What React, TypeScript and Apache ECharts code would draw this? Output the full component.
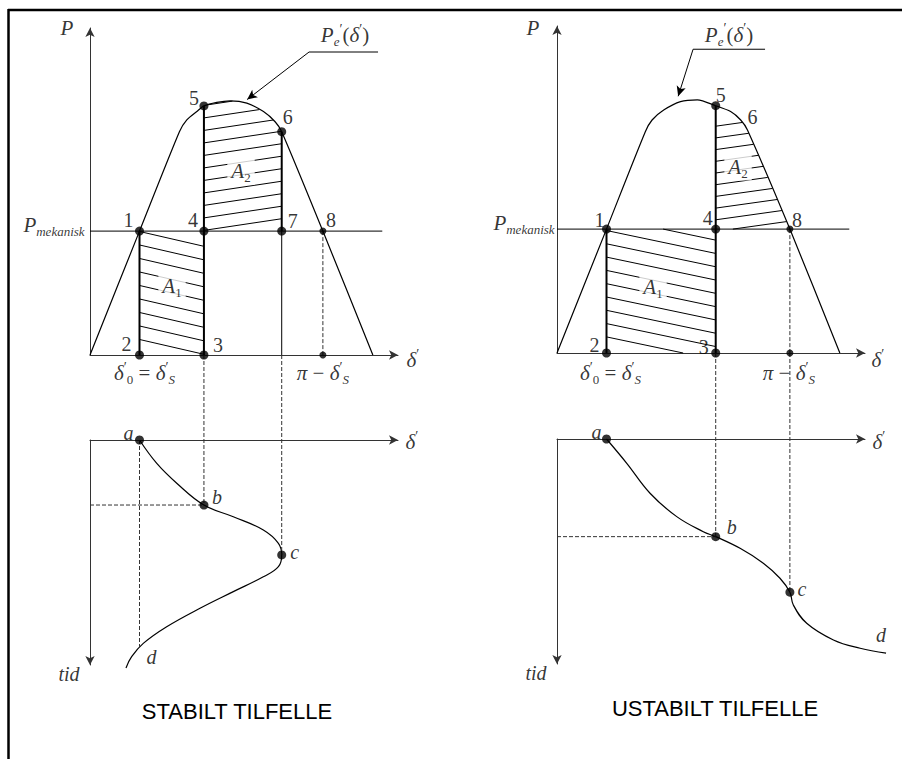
import React, { useEffect, useRef } from 'react';
import * as echarts from 'echarts';

const SERIF = '"Liberation Serif", "Times New Roman", serif';
const SANS = '"Liberation Sans", Arial, Helvetica, sans-serif';

// Angles in electrical degrees, power relative to the peak of P'e(δ'), time in relative units
const DELTA_MAX = 196;
const P_MAX = 1.28;
const T_MAX = 1;
const DELTA_S = 31.5; // δ'0 = δ'S
const DELTA_U = 148.2; // π − δ'S
const P_MEK = 0.485;
const P_MEK_END = 186;

// Stable case (left)
const STABLE_CLEAR = 72.5; // points 3, 4, 5
const STABLE_SWING = 122; // points 6, 7
const stablePowerDelta = [0, DELTA_S, 56.9, 61.6, 68.0, STABLE_CLEAR, 80.7, 89.2, 99.8, 110.4, 117.8, STABLE_SWING, DELTA_U, 180];
const stablePower = [0, P_MEK, 0.874, 0.92, 0.953, 0.975, 0.989, 0.995, 0.986, 0.953, 0.913, 0.874, P_MEK, 0];
const stableSwingDelta = [DELTA_S, 42.5, 55.2, STABLE_CLEAR, 91.2, 110.3, 119.9, STABLE_SWING, 119.9, 110.3, 91.2, 70.0, 48.8, 33.9, 26.5, 22.9];
const stableSwingTime = [0, 0.104, 0.192, 0.289, 0.341, 0.4, 0.459, 0.511, 0.563, 0.608, 0.674, 0.748, 0.83, 0.904, 0.963, 1.013];
const STABLE_DROP_T = 0.933;
const stablePointerDelta = [183.3, 139.4, 100];
const stablePointerP = [1.186, 1.186, 1.0];

// Unstable case (right)
const UNSTABLE_CLEAR = 101; // points 3, 4, 5
const UNSTABLE_MARK6 = 121.2;
const unstablePowerDelta = [0, DELTA_S, 56.2, 60.5, 67.9, 78.6, 89.3, UNSTABLE_CLEAR, 110.5, 116.9, UNSTABLE_MARK6, DELTA_U, 180];
const unstablePower = [0, P_MEK, 0.866, 0.912, 0.951, 0.984, 0.991, 0.968, 0.945, 0.912, 0.873, P_MEK, 0];
const unstableSwingDelta = [DELTA_S, 44.4, 59.2, 76.2, 93.1, UNSTABLE_CLEAR, 116.5, 131.3, 141.9, DELTA_U, 150.4, 158.9, 175.9, 192.9, 209.4];
const unstableSwingTime = [0, 0.108, 0.241, 0.345, 0.412, 0.434, 0.486, 0.552, 0.619, 0.681, 0.738, 0.819, 0.893, 0.93, 0.952];
const unstablePointerDelta = [132.4, 86.6, 77.1];
const unstablePointerP = [1.189, 1.189, 1.005];

const zip = (xs: number[], ys: number[]) => xs.map((x, i) => [x, ys[i]]);
const valueAt = (xs: number[], ys: number[], x: number) => ys[xs.indexOf(x)];

const P5_STABLE = valueAt(stablePowerDelta, stablePower, STABLE_CLEAR);
const P6_STABLE = valueAt(stablePowerDelta, stablePower, STABLE_SWING);
const P5_UNSTABLE = valueAt(unstablePowerDelta, unstablePower, UNSTABLE_CLEAR);
const P6_UNSTABLE = valueAt(unstablePowerDelta, unstablePower, UNSTABLE_MARK6);
const TB_STABLE = valueAt(stableSwingDelta, stableSwingTime, STABLE_CLEAR);
const TC_STABLE = valueAt(stableSwingDelta, stableSwingTime, STABLE_SWING);
const TB_UNSTABLE = valueAt(unstableSwingDelta, unstableSwingTime, UNSTABLE_CLEAR);
const TC_UNSTABLE = valueAt(unstableSwingDelta, unstableSwingTime, DELTA_U);
const TD_UNSTABLE = unstableSwingTime[unstableSwingTime.length - 1];
const DD_UNSTABLE = unstableSwingDelta[unstableSwingDelta.length - 1];

const rich: any = {
  i: { fontFamily: SERIF, fontStyle: 'italic', fontSize: 21, lineHeight: 26, color: '#000' },
  r: { fontFamily: SERIF, fontSize: 21, lineHeight: 26, color: '#000' },
  s: { fontFamily: SERIF, fontStyle: 'italic', fontSize: 13, lineHeight: 12, verticalAlign: 'bottom', color: '#000' },
  o: { fontFamily: SERIF, fontSize: 13, lineHeight: 12, verticalAlign: 'bottom', color: '#000' },
  q: { fontFamily: SERIF, fontSize: 14, lineHeight: 13, verticalAlign: 'top', color: '#000' },
  n: { fontFamily: SERIF, fontSize: 20, lineHeight: 22, color: '#000' },
  l: { fontFamily: SERIF, fontStyle: 'italic', fontSize: 20, lineHeight: 22, color: '#000' },
};

const T_P = '{i|P}';
const T_PMEK = '{i|P}{s|mekanisk}';
const T_PE = '{i|P}{s|e}{q|′}{r|(}{i|δ}{q|′}{r|)}';
const T_DELTA = '{i|δ}{q|′}';
const T_DS = '{i|δ}{q|′}{o|0}{r| = }{i|δ}{q|′}{s|S}';
const T_DU = '{i|π}{r| − }{i|δ}{q|′}{s|S}';
const T_A1 = '{i|A}{o|1}';
const T_A2 = '{i|A}{o|2}';
const num = (n: number) => `{n|${n}}`;
const let_ = (s: string) => `{l|${s}}`;

type Lab = { at: number[]; text: string; dx: number; dy: number; box?: boolean };

const stableTopLabels: Lab[] = [
  { at: [DELTA_S, P_MEK], text: num(1), dx: -11, dy: -11 },
  { at: [DELTA_S, 0], text: num(2), dx: -13, dy: -11 },
  { at: [STABLE_CLEAR, 0], text: num(3), dx: 14, dy: -10 },
  { at: [STABLE_CLEAR, P_MEK], text: num(4), dx: -11, dy: -11 },
  { at: [STABLE_CLEAR, P5_STABLE], text: num(5), dx: -10, dy: -8 },
  { at: [STABLE_SWING, P6_STABLE], text: num(6), dx: 6, dy: -15 },
  { at: [STABLE_SWING, P_MEK], text: num(7), dx: 11, dy: -10 },
  { at: [DELTA_U, P_MEK], text: num(8), dx: 8, dy: -11 },
  { at: [0, P_MAX], text: T_P, dx: -23, dy: 0 },
  { at: [0, P_MEK], text: T_PMEK, dx: -36, dy: -6 },
  { at: [DELTA_MAX, 0], text: T_DELTA, dx: 15, dy: 5 },
  { at: [DELTA_S, 0], text: T_DS, dx: 5, dy: 18 },
  { at: [DELTA_U, 0], text: T_DU, dx: 0, dy: 18 },
  { at: [52.2, 0.27], text: T_A1, dx: 0, dy: 0, box: true },
  { at: [96.1, 0.72], text: T_A2, dx: 0, dy: 0, box: true },
  { at: [162.3, 1.252], text: T_PE, dx: 0, dy: 0 },
];

const unstableTopLabels: Lab[] = [
  { at: [DELTA_S, P_MEK], text: num(1), dx: -7, dy: -9 },
  { at: [DELTA_S, 0], text: num(2), dx: -12, dy: -8 },
  { at: [UNSTABLE_CLEAR, 0], text: num(3), dx: -12, dy: -6 },
  { at: [UNSTABLE_CLEAR, P_MEK], text: num(4), dx: -8, dy: -11 },
  { at: [UNSTABLE_CLEAR, P5_UNSTABLE], text: num(5), dx: 5, dy: -11 },
  { at: [UNSTABLE_MARK6, P6_UNSTABLE], text: num(6), dx: 5, dy: -13 },
  { at: [DELTA_U, P_MEK], text: num(8), dx: 7, dy: -9 },
  { at: [0, P_MAX], text: T_P, dx: -24, dy: 2 },
  { at: [0, P_MEK], text: T_PMEK, dx: -33, dy: -6 },
  { at: [DELTA_MAX, 0], text: T_DELTA, dx: 13, dy: 7 },
  { at: [DELTA_S, 0], text: T_DS, dx: 4, dy: 20 },
  { at: [DELTA_U, 0], text: T_DU, dx: -1, dy: 20 },
  { at: [61.1, 0.258], text: T_A1, dx: 0, dy: 0, box: true },
  { at: [115.2, 0.73], text: T_A2, dx: 0, dy: 0, box: true },
  { at: [109.5, 1.245], text: T_PE, dx: 0, dy: 0 },
];

const stableBottomLabels: Lab[] = [
  { at: [DELTA_S, 0], text: let_('a'), dx: -11, dy: -7 },
  { at: [STABLE_CLEAR, TB_STABLE], text: let_('b'), dx: 13, dy: -8 },
  { at: [STABLE_SWING, TC_STABLE], text: let_('c'), dx: 13, dy: -3 },
  { at: [DELTA_S, STABLE_DROP_T], text: let_('d'), dx: 12, dy: 7 },
  { at: [0, T_MAX], text: let_('tid'), dx: -21, dy: 9 },
  { at: [DELTA_MAX, 0], text: T_DELTA, dx: 14, dy: 2 },
];

const unstableBottomLabels: Lab[] = [
  { at: [DELTA_S, 0], text: let_('a'), dx: -10, dy: -7 },
  { at: [UNSTABLE_CLEAR, TB_UNSTABLE], text: let_('b'), dx: 16, dy: -10 },
  { at: [DELTA_U, TC_UNSTABLE], text: let_('c'), dx: 12, dy: -3 },
  { at: [DD_UNSTABLE, TD_UNSTABLE], text: let_('d'), dx: -5, dy: -18 },
  { at: [0, T_MAX], text: let_('tid'), dx: -21, dy: 9 },
  { at: [DELTA_MAX, 0], text: T_DELTA, dx: 14, dy: 3 },
];

const segments = (gi: number, rows: number[][], width: number, dashed = false): any => ({
  type: 'custom',
  xAxisIndex: gi,
  yAxisIndex: gi,
  silent: true,
  z: 3,
  data: rows,
  renderItem: (_p: any, api: any) => {
    const a = api.coord([api.value(0), api.value(1)]);
    const b = api.coord([api.value(2), api.value(3)]);
    return {
      type: 'line',
      shape: { x1: a[0], y1: a[1], x2: b[0], y2: b[1] },
      style: { stroke: dashed ? '#333' : '#000', lineWidth: width, lineDash: dashed ? [4, 2] : null, fill: null },
    };
  },
});

// Parallel hatch lines (pixel slope dy/dx, vertical spacing) clipped to a polygon given in data units
const hatch = (gi: number, polygon: number[][], anchor: number[], slope: number, spacing: number, phase: number): any => ({
  type: 'custom',
  xAxisIndex: gi,
  yAxisIndex: gi,
  silent: true,
  z: 2,
  data: [[0, 0]],
  renderItem: (_p: any, api: any) => {
    const pts = polygon.map((p) => api.coord(p));
    const a = api.coord(anchor);
    const b0 = a[1] - slope * a[0] + phase;
    const bs = pts.map((p: number[]) => p[1] - slope * p[0]);
    const kMin = Math.ceil((Math.min(...bs) - b0) / spacing);
    const kMax = Math.floor((Math.max(...bs) - b0) / spacing);
    const children: any[] = [];
    for (let k = kMin; k <= kMax; k++) {
      const b = b0 + k * spacing;
      const xs: number[] = [];
      for (let i = 0; i < pts.length; i++) {
        const p1 = pts[i];
        const p2 = pts[(i + 1) % pts.length];
        const f1 = p1[1] - slope * p1[0] - b;
        const f2 = p2[1] - slope * p2[0] - b;
        if (f1 > 0 !== f2 > 0) {
          const t = f1 / (f1 - f2);
          xs.push(p1[0] + t * (p2[0] - p1[0]));
        }
      }
      xs.sort((u, v) => u - v);
      for (let j = 0; j + 1 < xs.length; j += 2) {
        const len = (xs[j + 1] - xs[j]) * Math.sqrt(1 + slope * slope);
        if (len < 16) continue;
        children.push({
          type: 'line',
          shape: { x1: xs[j], y1: slope * xs[j] + b, x2: xs[j + 1], y2: slope * xs[j + 1] + b },
          style: { stroke: '#000', lineWidth: 1 },
        });
      }
    }
    return { type: 'group', children };
  },
});

const curve = (gi: number, xs: number[], ys: number[], smooth: number, pointer?: number[][]): any => ({
  type: 'line',
  xAxisIndex: gi,
  yAxisIndex: gi,
  data: zip(xs, ys),
  smooth,
  symbol: 'none',
  clip: false,
  silent: true,
  z: 3,
  lineStyle: { color: '#000', width: 1.2 },
  markLine: pointer
    ? {
        silent: true,
        symbol: ['none', 'arrow'],
        symbolSize: [7, 10],
        label: { show: false },
        lineStyle: { color: '#000', width: 1, type: 'solid' },
        data: [[{ coord: pointer[0] }, { coord: pointer[1] }]],
      }
    : undefined,
});

// Swing curve δ'(t); may run past the end of the δ' axis, so it is drawn unclipped
const swing = (gi: number, xs: number[], ys: number[], smooth: number): any => ({
  type: 'custom',
  xAxisIndex: gi,
  yAxisIndex: gi,
  silent: true,
  z: 3,
  data: [[xs[0], ys[0]]],
  renderItem: (_p: any, api: any) => ({
    type: 'polyline',
    shape: { points: zip(xs, ys).map((p) => api.coord(p)), smooth },
    style: { stroke: '#000', lineWidth: 1.2, fill: null },
  }),
});

const dots = (gi: number, pts: number[][], size: number): any => ({
  type: 'scatter',
  xAxisIndex: gi,
  yAxisIndex: gi,
  data: pts,
  symbolSize: size,
  silent: true,
  clip: false,
  z: 4,
  itemStyle: { color: '#000' },
});

const labels = (gi: number, items: Lab[]): any => ({
  type: 'scatter',
  xAxisIndex: gi,
  yAxisIndex: gi,
  symbolSize: 1,
  silent: true,
  clip: false,
  z: 6,
  itemStyle: { color: 'rgba(0,0,0,0)' },
  label: { show: true, position: 'inside', color: '#000', textBorderWidth: 0, rich },
  data: items.map((l) => ({
    value: l.at,
    label: {
      formatter: l.text,
      offset: [l.dx, l.dy],
      ...(l.box ? { backgroundColor: '#fff', padding: [1, 4] } : {}),
    },
  })),
});

const underCurve = (xs: number[], ys: number[], from: number, to: number) =>
  zip(xs, ys).filter((p) => p[0] > from && p[0] < to);

const axisLine = (symbol: string[]) => ({
  show: true,
  onZero: false,
  symbol,
  symbolSize: [7, 9],
  lineStyle: { color: '#333', width: 1 },
});

const hiddenParts = {
  axisTick: { show: false },
  axisLabel: { show: false },
  splitLine: { show: false },
};

function buildOption(): any {
  const grids = [
    { left: 90, top: 28, width: 308, height: 327 },
    { left: 557, top: 26, width: 308, height: 327 },
    { left: 90, top: 440, width: 308, height: 225 },
    { left: 557, top: 439, width: 308, height: 225 },
  ];
  const xAxis = grids.map((_, i) => ({
    gridIndex: i,
    type: 'value',
    min: 0,
    max: DELTA_MAX,
    position: i < 2 ? 'bottom' : 'top',
    axisLine: axisLine(['none', 'arrow']),
    ...hiddenParts,
  }));
  const yAxis = grids.map((_, i) =>
    i < 2
      ? { gridIndex: i, type: 'value', min: 0, max: P_MAX, axisLine: axisLine(['none', 'arrow']), ...hiddenParts }
      : { gridIndex: i, type: 'value', min: 0, max: T_MAX, inverse: true, axisLine: axisLine(['arrow', 'none']), ...hiddenParts }
  );

  const stablePointer = zip(stablePointerDelta, stablePointerP);
  const unstablePointer = zip(unstablePointerDelta, unstablePointerP);

  const series: any[] = [
    // ---- stable, power-angle ----
    hatch(0, [[DELTA_S, P_MEK], [STABLE_CLEAR, P_MEK], [STABLE_CLEAR, 0], [DELTA_S, 0]], [STABLE_CLEAR, 0], 0.23, 13.5, -0.7),
    hatch(
      0,
      [
        [STABLE_CLEAR, P_MEK],
        [STABLE_CLEAR, P5_STABLE],
        ...underCurve(stablePowerDelta, stablePower, STABLE_CLEAR, STABLE_SWING),
        [STABLE_SWING, P6_STABLE],
        [STABLE_SWING, P_MEK],
      ],
      [STABLE_CLEAR, P_MEK],
      -0.15,
      12.5,
      -0.7
    ),
    curve(0, stablePowerDelta, stablePower, 0.25, [stablePointer[1], stablePointer[2]]),
    segments(0, [[0, P_MEK, P_MEK_END, P_MEK], [STABLE_SWING, P_MEK, STABLE_SWING, 0], [...stablePointer[0], ...stablePointer[1]]], 1),
    segments(0, [[DELTA_S, P_MEK, DELTA_S, 0], [STABLE_CLEAR, 0, STABLE_CLEAR, P5_STABLE], [STABLE_SWING, P6_STABLE, STABLE_SWING, P_MEK]], 2),
    segments(0, [[DELTA_U, P_MEK, DELTA_U, 0]], 1, true),
    dots(0, [[DELTA_S, P_MEK], [DELTA_S, 0], [STABLE_CLEAR, 0], [STABLE_CLEAR, P_MEK], [STABLE_CLEAR, P5_STABLE], [STABLE_SWING, P6_STABLE], [STABLE_SWING, P_MEK]], 9),
    dots(0, [[DELTA_U, P_MEK], [DELTA_U, 0]], 7),
    labels(0, stableTopLabels),

    // ---- unstable, power-angle ----
    hatch(1, [[DELTA_S, P_MEK], [UNSTABLE_CLEAR, P_MEK], [UNSTABLE_CLEAR, 0], [DELTA_S, 0]], [DELTA_S, 0], 0.21, 13.3, -16.1),
    hatch(
      1,
      [
        [UNSTABLE_CLEAR, P_MEK],
        [UNSTABLE_CLEAR, P5_UNSTABLE],
        ...underCurve(unstablePowerDelta, unstablePower, UNSTABLE_CLEAR, DELTA_U),
        [DELTA_U, P_MEK],
      ],
      [UNSTABLE_CLEAR, P_MEK],
      -0.14,
      11.7,
      2.4
    ),
    curve(1, unstablePowerDelta, unstablePower, 0.25, [unstablePointer[1], unstablePointer[2]]),
    segments(1, [[0, P_MEK, P_MEK_END, P_MEK], [...unstablePointer[0], ...unstablePointer[1]]], 1),
    segments(1, [[DELTA_S, P_MEK, DELTA_S, 0], [UNSTABLE_CLEAR, 0, UNSTABLE_CLEAR, P5_UNSTABLE]], 2),
    segments(1, [[DELTA_U, P_MEK, DELTA_U, 0]], 1, true),
    dots(1, [[DELTA_S, P_MEK], [DELTA_S, 0], [UNSTABLE_CLEAR, 0], [UNSTABLE_CLEAR, P_MEK], [UNSTABLE_CLEAR, P5_UNSTABLE]], 9),
    dots(1, [[DELTA_U, P_MEK], [DELTA_U, 0]], 7),
    labels(1, unstableTopLabels),

    // ---- stable, swing curve ----
    swing(2, stableSwingDelta, stableSwingTime, 0.4),
    segments(2, [[DELTA_S, 0, DELTA_S, STABLE_DROP_T], [0, TB_STABLE, STABLE_CLEAR, TB_STABLE]], 1, true),
    dots(2, [[DELTA_S, 0], [STABLE_CLEAR, TB_STABLE], [STABLE_SWING, TC_STABLE]], 9),
    labels(2, stableBottomLabels),

    // ---- unstable, swing curve ----
    swing(3, unstableSwingDelta, unstableSwingTime, 0.4),
    segments(3, [[0, TB_UNSTABLE, UNSTABLE_CLEAR, TB_UNSTABLE]], 1, true),
    dots(3, [[DELTA_S, 0], [UNSTABLE_CLEAR, TB_UNSTABLE], [DELTA_U, TC_UNSTABLE]], 9),
    labels(3, unstableBottomLabels),
  ];

  return {
    animation: false,
    grid: grids.map((g) => ({ ...g, outerBoundsMode: 'none', containLabel: false })),
    xAxis,
    yAxis,
    series,
  };
}

// Dashed guides from the power-angle diagrams down to the swing curves
const connectors = [
  { top: 0, bottom: 2, delta: STABLE_CLEAR, t: TB_STABLE },
  { top: 0, bottom: 2, delta: STABLE_SWING, t: TC_STABLE },
  { top: 1, bottom: 3, delta: UNSTABLE_CLEAR, t: TB_UNSTABLE },
  { top: 1, bottom: 3, delta: DELTA_U, t: TC_UNSTABLE },
];

export default function App() {
  const ref = useRef<HTMLDivElement>(null);

  useEffect(() => {
    if (!ref.current) return;
    const chart = echarts.init(ref.current, null, { renderer: 'svg' });
    chart.setOption(buildOption());

    const guideLines = connectors.map((c) => {
      const a = chart.convertToPixel({ gridIndex: c.top }, [c.delta, 0]) as number[];
      const b = chart.convertToPixel({ gridIndex: c.bottom }, [c.delta, c.t]) as number[];
      return {
        type: 'line',
        silent: true,
        z: 3,
        shape: { x1: a[0], y1: a[1], x2: b[0], y2: b[1] },
        style: { stroke: '#333', lineWidth: 1, lineDash: [4, 2] },
      };
    });

    chart.setOption({
      graphic: [
        { type: 'line', silent: true, shape: { x1: 8, y1: 10, x2: 902, y2: 10 }, style: { stroke: '#000', lineWidth: 2.5 } },
        { type: 'line', silent: true, shape: { x1: 8.5, y1: 9, x2: 8.5, y2: 759 }, style: { stroke: '#000', lineWidth: 2.5 } },
        ...guideLines,
        {
          type: 'text',
          silent: true,
          x: 237,
          y: 711,
          style: { text: 'STABILT TILFELLE', fontFamily: SANS, fontSize: 22, fill: '#000', align: 'center', verticalAlign: 'middle' },
        },
        {
          type: 'text',
          silent: true,
          x: 715,
          y: 708,
          style: { text: 'USTABILT TILFELLE', fontFamily: SANS, fontSize: 22, fill: '#000', align: 'center', verticalAlign: 'middle' },
        },
      ],
    });

    return () => chart.dispose();
  }, []);

  return <div ref={ref} style={{ position: 'absolute', left: 0, top: 0, width: 902, height: 759, background: '#fff' }} />;
}
